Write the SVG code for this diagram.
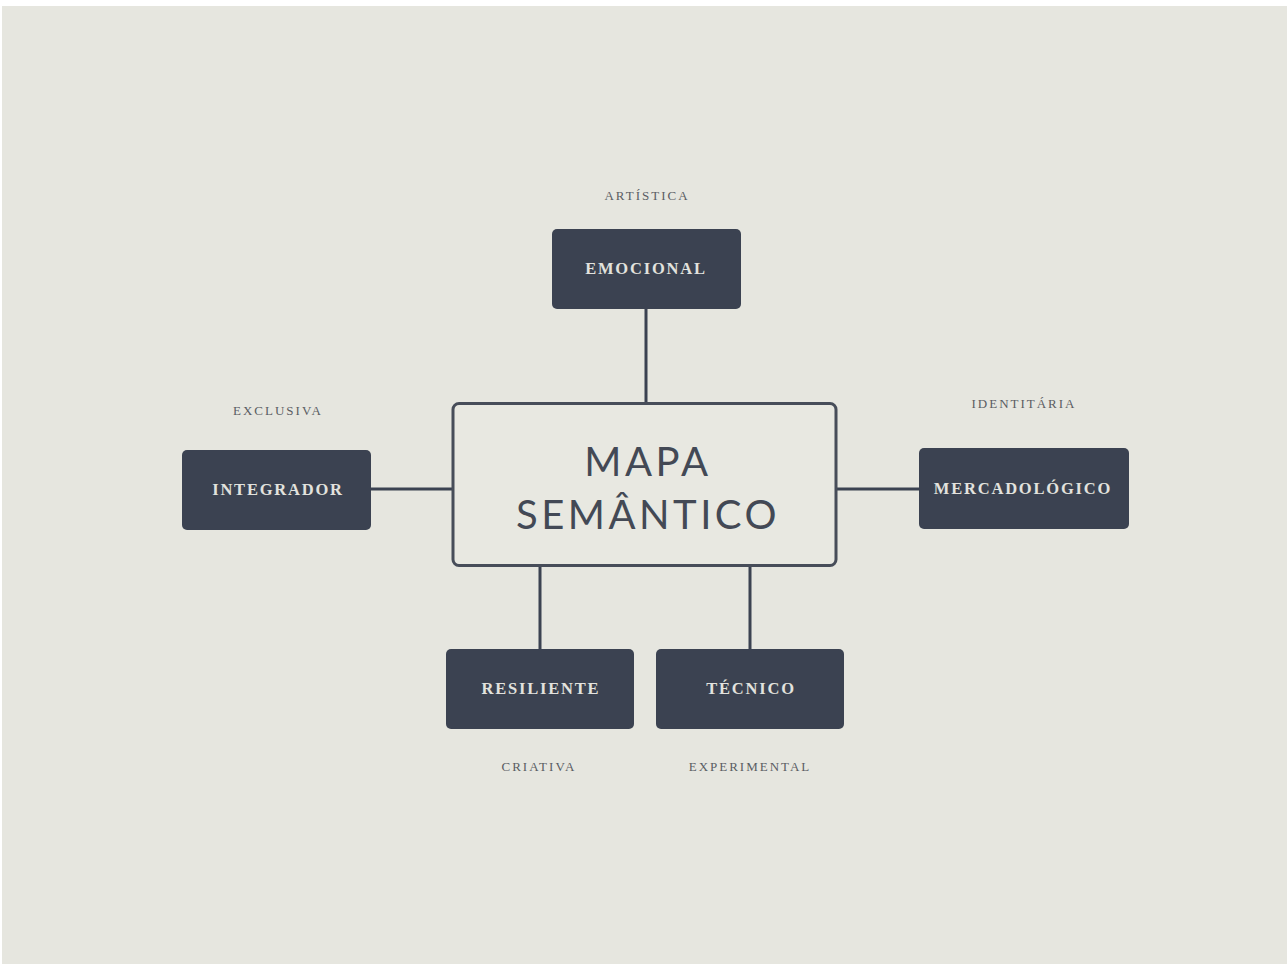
<svg xmlns="http://www.w3.org/2000/svg" width="1287" height="966" viewBox="0 0 1287 966">
<style>
.node{fill:#3b4251;}
.nt{font-family:"Liberation Serif",serif;font-size:16.5px;font-weight:bold;fill:#e2e2de;text-anchor:middle;dominant-baseline:central;letter-spacing:1.8px;}
.lb{font-family:"Liberation Serif",serif;font-size:13px;fill:#5a5d63;text-anchor:middle;letter-spacing:2px;}
.ct{font-family:Lato,"Liberation Sans",sans-serif;font-size:40px;fill:#434955;text-anchor:middle;letter-spacing:3.5px;}
.ln{stroke:#3b4251;stroke-width:3;fill:none;}
</style>
<rect width="1287" height="966" fill="#ffffff"/>
<rect x="2" y="6" width="1285" height="958" fill="#e6e6df"/>
<g id="connectors">
<line class="ln" x1="646" y1="309" x2="646" y2="403"/>
<line class="ln" x1="371" y1="489" x2="453" y2="489"/>
<line class="ln" x1="836" y1="489" x2="919" y2="489"/>
<line class="ln" x1="540" y1="566" x2="540" y2="649"/>
<line class="ln" x1="750" y1="566" x2="750" y2="649"/>
</g>
<g id="center">
<rect x="453" y="403.5" width="383" height="162" rx="6" fill="#e8e8e1" stroke="#474d59" stroke-width="3"/>
<text class="ct" x="648" y="476">MAPA</text>
<text class="ct" x="648" y="529">SEMÂNTICO</text>
</g>
<g id="emocional">
<rect class="node" x="552" y="229" width="189" height="80" rx="5"/>
<text class="nt" x="646" y="268">EMOCIONAL</text>
<text class="lb" x="647" y="200">ARTÍSTICA</text>
</g>
<g id="integrador">
<rect class="node" x="182" y="450" width="189" height="80" rx="5"/>
<text class="nt" x="278" y="489">INTEGRADOR</text>
<text class="lb" x="278" y="415">EXCLUSIVA</text>
</g>
<g id="mercadologico">
<rect class="node" x="919" y="448" width="210" height="81" rx="5"/>
<text class="nt" x="1023" y="488">MERCADOLÓGICO</text>
<text class="lb" x="1024" y="408">IDENTITÁRIA</text>
</g>
<g id="resiliente">
<rect class="node" x="446" y="649" width="188" height="80" rx="5"/>
<text class="nt" x="541" y="688">RESILIENTE</text>
<text class="lb" x="539" y="771">CRIATIVA</text>
</g>
<g id="tecnico">
<rect class="node" x="656" y="649" width="188" height="80" rx="5"/>
<text class="nt" x="751" y="688">TÉCNICO</text>
<text class="lb" x="750" y="771">EXPERIMENTAL</text>
</g>
</svg>
